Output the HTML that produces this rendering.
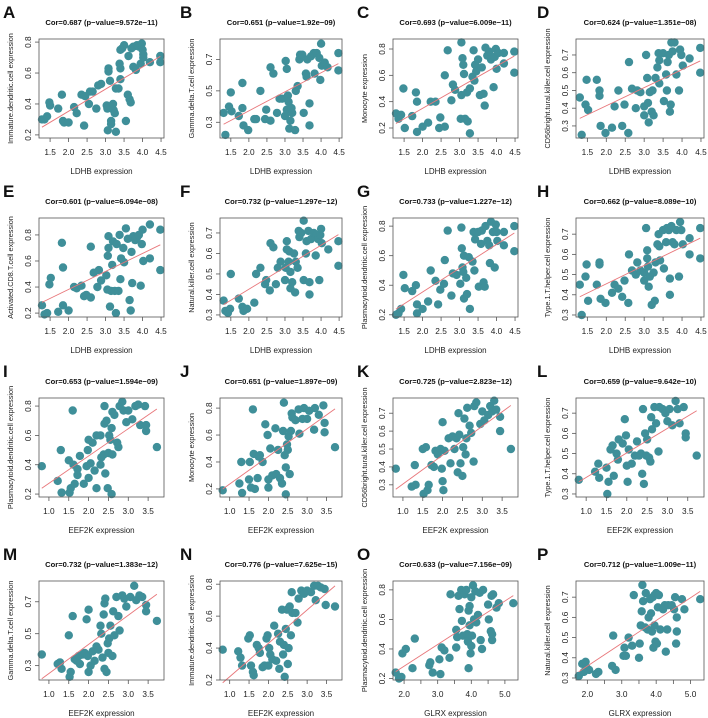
<!DOCTYPE html>
<html><head><meta charset="utf-8"><style>
html,body{margin:0;padding:0;background:#fff;width:708px;height:718px;overflow:hidden}
svg{display:block;font-family:"Liberation Sans",Arial,sans-serif}
</style></head><body>
<svg id="fig" width="708" height="718" viewBox="0 0 708 718"></svg>
<script>
const ldhbTicks=[1.5,2.0,2.5,3.0,3.5,4.0,4.5];
const eef2kTicks=[1.0,1.5,2.0,2.5,3.0,3.5];
const glrxTicks=[2.0,2.5,3.0,3.5,4.0,4.5,5.0];
const glrxLabels=["2.0","","3.0","","4.0","","5.0"];
const yTicks8=[0.2,0.4,0.6,0.8];
const yTicks7=[0.3,0.4,0.5,0.6,0.7];
const yTicks357=[0.3,0.5,0.7];
const panelLetters=["A","B","C","D","E","F","G","H","I","J","K","L","M","N","O","P"];
const panelTitles=["Cor=0.687 (p\u2212value=9.572e\u221211)","Cor=0.651 (p\u2212value=1.92e\u221209)","Cor=0.693 (p\u2212value=6.009e\u221211)","Cor=0.624 (p\u2212value=1.351e\u221208)","Cor=0.601 (p\u2212value=6.094e\u221208)","Cor=0.732 (p\u2212value=1.297e\u221212)","Cor=0.733 (p\u2212value=1.227e\u221212)","Cor=0.662 (p\u2212value=8.089e\u221210)","Cor=0.653 (p\u2212value=1.594e\u221209)","Cor=0.651 (p\u2212value=1.897e\u221209)","Cor=0.725 (p\u2212value=2.823e\u221212)","Cor=0.659 (p\u2212value=9.642e\u221210)","Cor=0.732 (p\u2212value=1.383e\u221212)","Cor=0.776 (p\u2212value=7.625e\u221215)","Cor=0.633 (p\u2212value=7.156e\u221209)","Cor=0.712 (p\u2212value=1.009e\u221211)"];
const yTitles=["Immature.dendritic.cell expression","Gamma.delta.T.cell expression","Monocyte expression","CD56bright.tural.killer.cell expression","Activated.CD8.T.cell expression","Natural.killer.cell expression","Plasmacytoid.dendritic.cell expression","Type.1.T.helper.cell expression","Plasmacytoid.dendritic.cell expression","Monocyte expression","CD56bright.tural.killer.cell expression","Type.1.T.helper.cell expression","Gamma.delta.T.cell expression","Immature.dendritic.cell expression","Plasmacytoid.dendritic.cell expression","Natural.killer.cell expression"];
const xTitles=["LDHB expression","LDHB expression","LDHB expression","LDHB expression","LDHB expression","LDHB expression","LDHB expression","LDHB expression","EEF2K expression","EEF2K expression","EEF2K expression","EEF2K expression","EEF2K expression","EEF2K expression","GLRX expression","GLRX expression"];
const yDomains=[[0.18,0.82],[0.2,0.83],[0.124,0.876],[0.232,0.79],[0.17,0.93],[0.29,0.773],[0.185,0.855],[0.29,0.78],[0.18,0.855],[0.14,0.875],[0.232,0.785],[0.285,0.775],[0.21,0.83],[0.2,0.82],[0.19,0.86],[0.29,0.78]];
const yTickSets=[yTicks8,yTicks357,yTicks8,yTicks7,yTicks8,yTicks7,yTicks8,yTicks7,yTicks8,yTicks8,yTicks7,yTicks7,yTicks357,yTicks8,yTicks8,yTicks7];

const ptsA=[[1.28,0.30],[1.35,0.30],[1.42,0.32],[1.48,0.41],[1.5,0.39],[1.72,0.37],[1.82,0.46],[1.85,0.29],[1.88,0.28],[2.0,0.28],[2.15,0.38],[2.22,0.34],[2.35,0.46],[2.42,0.26],[2.45,0.45],[2.55,0.40],[2.58,0.48],[2.65,0.48],[2.75,0.37],[2.8,0.52],[2.88,0.53],[3.03,0.39],[3.05,0.37],[3.06,0.23],[3.08,0.63],[3.08,0.61],[3.12,0.55],[3.15,0.29],[3.15,0.27],[3.2,0.40],[3.22,0.36],[3.25,0.34],[3.28,0.22],[3.28,0.50],[3.35,0.50],[3.38,0.66],[3.4,0.56],[3.4,0.63],[3.4,0.75],[3.45,0.76],[3.5,0.78],[3.55,0.29],[3.6,0.46],[3.62,0.71],[3.65,0.43],[3.68,0.41],[3.7,0.76],[3.75,0.77],[3.75,0.64],[3.82,0.62],[3.85,0.78],[3.9,0.77],[3.95,0.66],[3.98,0.79],[4.0,0.75],[4.02,0.72],[4.02,0.70],[4.2,0.67],[4.48,0.71],[4.48,0.67]];
const ptsB=[[1.3,0.36],[1.35,0.22],[1.45,0.40],[1.5,0.49],[1.52,0.37],[1.72,0.34],[1.82,0.55],[1.82,0.39],[1.85,0.28],[1.98,0.25],[2.15,0.32],[2.2,0.32],[2.32,0.50],[2.45,0.32],[2.48,0.38],[2.6,0.31],[2.6,0.65],[2.68,0.61],[2.78,0.36],[2.85,0.45],[2.92,0.45],[3.0,0.34],[3.02,0.69],[3.05,0.64],[3.05,0.38],[3.08,0.47],[3.1,0.43],[3.12,0.26],[3.15,0.31],[3.18,0.39],[3.2,0.36],[3.28,0.25],[3.3,0.50],[3.35,0.53],[3.4,0.70],[3.42,0.73],[3.48,0.73],[3.52,0.36],[3.58,0.61],[3.6,0.59],[3.62,0.70],[3.68,0.42],[3.68,0.28],[3.72,0.72],[3.8,0.74],[3.82,0.61],[3.88,0.74],[3.95,0.71],[3.98,0.57],[4.0,0.80],[4.02,0.66],[4.1,0.68],[4.18,0.65],[4.48,0.74],[4.48,0.63]];
const ptsC=[[1.28,0.31],[1.35,0.27],[1.42,0.30],[1.48,0.50],[1.52,0.20],[1.72,0.29],[1.82,0.47],[1.85,0.40],[1.85,0.17],[2.0,0.21],[2.15,0.24],[2.22,0.40],[2.35,0.40],[2.45,0.20],[2.48,0.28],[2.6,0.21],[2.6,0.60],[2.68,0.79],[2.78,0.41],[2.82,0.53],[2.88,0.49],[3.03,0.27],[3.05,0.45],[3.05,0.85],[3.08,0.73],[3.1,0.68],[3.12,0.61],[3.15,0.27],[3.2,0.47],[3.22,0.25],[3.28,0.16],[3.28,0.50],[3.35,0.59],[3.38,0.79],[3.4,0.56],[3.42,0.68],[3.45,0.63],[3.5,0.72],[3.55,0.45],[3.6,0.66],[3.65,0.46],[3.68,0.37],[3.7,0.81],[3.75,0.75],[3.8,0.78],[3.85,0.72],[3.92,0.51],[3.95,0.74],[3.98,0.80],[4.0,0.65],[4.05,0.77],[4.2,0.69],[4.2,0.77],[4.48,0.78],[4.48,0.62]];
const ptsD=[[1.3,0.46],[1.35,0.25],[1.45,0.42],[1.48,0.56],[1.52,0.39],[1.75,0.56],[1.82,0.50],[1.82,0.47],[1.85,0.30],[1.98,0.26],[2.15,0.29],[2.22,0.41],[2.32,0.50],[2.42,0.30],[2.48,0.42],[2.58,0.26],[2.6,0.66],[2.68,0.51],[2.78,0.40],[2.82,0.50],[2.9,0.49],[3.0,0.41],[3.0,0.36],[3.05,0.70],[3.08,0.57],[3.1,0.43],[3.12,0.32],[3.15,0.49],[3.2,0.38],[3.22,0.50],[3.25,0.36],[3.3,0.57],[3.35,0.63],[3.38,0.71],[3.4,0.67],[3.4,0.54],[3.5,0.71],[3.52,0.44],[3.58,0.59],[3.6,0.50],[3.62,0.66],[3.65,0.70],[3.68,0.38],[3.7,0.42],[3.72,0.77],[3.75,0.72],[3.8,0.77],[3.85,0.59],[3.92,0.50],[3.95,0.73],[3.98,0.70],[4.02,0.64],[4.2,0.68],[4.48,0.74],[4.48,0.60]];
const ptsE=[[1.28,0.26],[1.35,0.19],[1.42,0.20],[1.48,0.42],[1.52,0.47],[1.72,0.21],[1.82,0.74],[1.85,0.55],[1.85,0.26],[2.0,0.22],[2.15,0.40],[2.22,0.39],[2.35,0.41],[2.42,0.33],[2.48,0.34],[2.6,0.32],[2.6,0.71],[2.68,0.51],[2.78,0.40],[2.82,0.53],[2.88,0.45],[3.02,0.49],[3.05,0.38],[3.06,0.64],[3.08,0.70],[3.08,0.79],[3.12,0.25],[3.15,0.37],[3.18,0.57],[3.2,0.75],[3.25,0.37],[3.28,0.20],[3.3,0.73],[3.35,0.37],[3.38,0.80],[3.4,0.46],[3.42,0.62],[3.48,0.70],[3.5,0.59],[3.55,0.85],[3.6,0.77],[3.65,0.30],[3.68,0.22],[3.7,0.67],[3.72,0.43],[3.75,0.79],[3.8,0.76],[3.85,0.78],[3.9,0.80],[3.95,0.41],[3.98,0.73],[4.0,0.84],[4.02,0.60],[4.2,0.62],[4.2,0.88],[4.48,0.84],[4.48,0.53]];
const ptsF=[[1.3,0.37],[1.35,0.32],[1.42,0.31],[1.48,0.33],[1.5,0.50],[1.72,0.38],[1.82,0.34],[1.85,0.32],[1.95,0.33],[2.15,0.36],[2.2,0.50],[2.32,0.53],[2.45,0.45],[2.48,0.47],[2.58,0.42],[2.6,0.65],[2.68,0.63],[2.75,0.45],[2.8,0.53],[2.88,0.56],[3.0,0.47],[3.02,0.53],[3.05,0.62],[3.05,0.66],[3.1,0.56],[3.12,0.61],[3.15,0.51],[3.15,0.43],[3.2,0.46],[3.25,0.60],[3.28,0.41],[3.3,0.56],[3.35,0.53],[3.38,0.71],[3.4,0.68],[3.45,0.70],[3.52,0.76],[3.52,0.47],[3.58,0.60],[3.6,0.66],[3.65,0.71],[3.68,0.46],[3.68,0.40],[3.72,0.67],[3.8,0.70],[3.85,0.59],[3.88,0.69],[3.92,0.67],[3.95,0.47],[3.98,0.69],[4.0,0.72],[4.02,0.65],[4.2,0.62],[4.48,0.66],[4.48,0.54]];
const ptsG=[[1.28,0.20],[1.35,0.21],[1.42,0.24],[1.48,0.47],[1.52,0.38],[1.72,0.36],[1.82,0.40],[1.85,0.27],[1.85,0.21],[2.0,0.24],[2.15,0.29],[2.22,0.50],[2.35,0.43],[2.42,0.27],[2.48,0.37],[2.58,0.41],[2.6,0.57],[2.68,0.77],[2.78,0.33],[2.82,0.48],[2.92,0.47],[3.02,0.41],[3.05,0.79],[3.06,0.65],[3.08,0.52],[3.1,0.49],[3.12,0.60],[3.12,0.31],[3.18,0.45],[3.2,0.34],[3.25,0.59],[3.28,0.24],[3.35,0.56],[3.38,0.76],[3.4,0.50],[3.42,0.71],[3.5,0.76],[3.52,0.39],[3.58,0.68],[3.6,0.77],[3.65,0.42],[3.68,0.39],[3.7,0.80],[3.75,0.70],[3.8,0.67],[3.82,0.55],[3.85,0.83],[3.9,0.76],[3.95,0.52],[3.98,0.81],[4.0,0.76],[4.02,0.70],[4.2,0.76],[4.2,0.67],[4.48,0.80],[4.48,0.63]];
const ptsH=[[1.3,0.45],[1.35,0.30],[1.45,0.49],[1.48,0.55],[1.52,0.37],[1.75,0.45],[1.82,0.56],[1.82,0.55],[1.85,0.38],[1.98,0.36],[2.15,0.41],[2.22,0.45],[2.32,0.43],[2.42,0.39],[2.48,0.47],[2.58,0.36],[2.6,0.60],[2.68,0.52],[2.78,0.50],[2.82,0.56],[2.9,0.52],[3.0,0.47],[3.0,0.51],[3.05,0.73],[3.08,0.62],[3.08,0.58],[3.1,0.54],[3.12,0.44],[3.15,0.49],[3.2,0.35],[3.25,0.51],[3.28,0.37],[3.3,0.56],[3.35,0.65],[3.38,0.70],[3.4,0.64],[3.42,0.57],[3.5,0.72],[3.52,0.53],[3.58,0.66],[3.6,0.73],[3.65,0.72],[3.68,0.48],[3.68,0.40],[3.72,0.74],[3.75,0.66],[3.8,0.65],[3.85,0.72],[3.92,0.49],[3.95,0.76],[3.98,0.72],[4.02,0.65],[4.2,0.68],[4.2,0.60],[4.48,0.73],[4.48,0.58]];
const ptsI=[[0.82,0.39],[1.22,0.29],[1.3,0.50],[1.32,0.21],[1.5,0.43],[1.52,0.21],[1.55,0.24],[1.6,0.77],[1.62,0.40],[1.65,0.27],[1.72,0.33],[1.72,0.37],[1.78,0.46],[1.88,0.27],[1.95,0.39],[1.98,0.50],[2.0,0.31],[2.0,0.57],[2.05,0.41],[2.1,0.55],[2.15,0.36],[2.2,0.24],[2.2,0.60],[2.3,0.60],[2.3,0.40],[2.32,0.45],[2.38,0.47],[2.4,0.68],[2.4,0.80],[2.42,0.34],[2.45,0.70],[2.48,0.24],[2.5,0.48],[2.52,0.60],[2.55,0.57],[2.58,0.65],[2.58,0.20],[2.6,0.47],[2.6,0.76],[2.65,0.74],[2.72,0.55],[2.75,0.52],[2.78,0.80],[2.85,0.83],[2.88,0.77],[2.95,0.69],[3.0,0.77],[3.1,0.71],[3.18,0.80],[3.25,0.81],[3.3,0.67],[3.42,0.80],[3.45,0.63],[3.45,0.67],[3.72,0.52]];
const ptsJ=[[0.82,0.19],[1.25,0.24],[1.3,0.40],[1.32,0.17],[1.5,0.27],[1.52,0.40],[1.55,0.21],[1.6,0.79],[1.62,0.46],[1.65,0.20],[1.72,0.28],[1.75,0.44],[1.78,0.45],[1.85,0.40],[1.92,0.68],[1.98,0.60],[2.0,0.27],[2.0,0.21],[2.05,0.50],[2.1,0.30],[2.18,0.65],[2.2,0.31],[2.25,0.49],[2.3,0.28],[2.35,0.24],[2.38,0.63],[2.4,0.84],[2.42,0.45],[2.45,0.36],[2.45,0.16],[2.48,0.53],[2.5,0.49],[2.52,0.59],[2.55,0.31],[2.58,0.63],[2.6,0.76],[2.62,0.73],[2.7,0.71],[2.78,0.79],[2.8,0.61],[2.88,0.72],[2.92,0.80],[3.0,0.72],[3.05,0.78],[3.18,0.64],[3.2,0.80],[3.3,0.75],[3.42,0.82],[3.45,0.62],[3.45,0.69],[3.72,0.51]];
const ptsK=[[0.82,0.39],[1.22,0.29],[1.3,0.41],[1.32,0.30],[1.5,0.50],[1.52,0.25],[1.58,0.51],[1.62,0.27],[1.65,0.30],[1.72,0.41],[1.78,0.40],[1.82,0.49],[1.88,0.47],[1.95,0.50],[1.98,0.39],[2.0,0.65],[2.0,0.32],[2.02,0.27],[2.05,0.49],[2.15,0.56],[2.2,0.42],[2.25,0.57],[2.3,0.50],[2.35,0.56],[2.38,0.37],[2.4,0.70],[2.42,0.58],[2.45,0.42],[2.5,0.35],[2.52,0.51],[2.55,0.67],[2.58,0.47],[2.6,0.56],[2.62,0.73],[2.68,0.63],[2.72,0.59],[2.78,0.43],[2.8,0.74],[2.85,0.76],[2.95,0.64],[3.0,0.71],[3.05,0.66],[3.15,0.69],[3.2,0.74],[3.25,0.71],[3.3,0.77],[3.35,0.72],[3.45,0.68],[3.45,0.60],[3.72,0.50]];
const ptsL=[[0.82,0.37],[1.22,0.41],[1.3,0.45],[1.32,0.38],[1.5,0.43],[1.52,0.30],[1.55,0.36],[1.6,0.52],[1.65,0.54],[1.68,0.39],[1.75,0.50],[1.78,0.47],[1.8,0.57],[1.9,0.55],[1.95,0.67],[1.98,0.59],[2.0,0.44],[2.02,0.36],[2.05,0.52],[2.12,0.45],[2.2,0.49],[2.25,0.56],[2.3,0.49],[2.35,0.50],[2.38,0.40],[2.4,0.72],[2.42,0.35],[2.45,0.60],[2.48,0.49],[2.5,0.57],[2.55,0.48],[2.58,0.46],[2.6,0.68],[2.62,0.62],[2.68,0.73],[2.72,0.65],[2.78,0.51],[2.8,0.73],[2.88,0.72],[2.95,0.70],[3.0,0.66],[3.05,0.72],[3.12,0.64],[3.2,0.76],[3.25,0.72],[3.3,0.65],[3.4,0.73],[3.45,0.60],[3.45,0.58],[3.72,0.49]];
const ptsM=[[0.82,0.37],[1.22,0.31],[1.28,0.32],[1.32,0.28],[1.5,0.49],[1.52,0.23],[1.55,0.26],[1.6,0.61],[1.65,0.34],[1.7,0.33],[1.75,0.36],[1.78,0.31],[1.85,0.37],[1.9,0.38],[1.95,0.59],[1.98,0.36],[2.0,0.65],[2.0,0.26],[2.05,0.30],[2.1,0.39],[2.15,0.33],[2.2,0.42],[2.25,0.40],[2.3,0.55],[2.32,0.50],[2.35,0.35],[2.38,0.62],[2.4,0.69],[2.4,0.28],[2.42,0.72],[2.45,0.26],[2.48,0.44],[2.5,0.38],[2.52,0.47],[2.55,0.55],[2.6,0.36],[2.62,0.64],[2.65,0.49],[2.7,0.73],[2.75,0.61],[2.78,0.52],[2.85,0.74],[2.9,0.72],[2.95,0.67],[3.05,0.73],[3.15,0.80],[3.2,0.71],[3.28,0.74],[3.35,0.73],[3.45,0.68],[3.45,0.64],[3.72,0.58]];
const ptsN=[[0.82,0.39],[1.22,0.38],[1.28,0.34],[1.32,0.29],[1.48,0.46],[1.52,0.48],[1.55,0.29],[1.6,0.25],[1.62,0.23],[1.7,0.42],[1.75,0.40],[1.78,0.37],[1.85,0.28],[1.9,0.29],[1.95,0.46],[1.98,0.48],[2.0,0.29],[2.02,0.40],[2.05,0.36],[2.1,0.33],[2.15,0.54],[2.2,0.32],[2.25,0.49],[2.28,0.27],[2.3,0.44],[2.35,0.64],[2.38,0.36],[2.4,0.42],[2.42,0.22],[2.45,0.52],[2.48,0.64],[2.5,0.30],[2.52,0.40],[2.55,0.66],[2.58,0.48],[2.6,0.75],[2.62,0.62],[2.7,0.62],[2.75,0.56],[2.78,0.71],[2.85,0.76],[2.92,0.74],[3.0,0.76],[3.1,0.75],[3.18,0.79],[3.22,0.70],[3.28,0.79],[3.35,0.78],[3.45,0.77],[3.48,0.67],[3.72,0.66]];
const ptsO=[[1.75,0.24],[1.85,0.20],[1.92,0.21],[1.95,0.37],[2.05,0.40],[2.25,0.27],[2.32,0.47],[2.75,0.29],[2.78,0.31],[2.85,0.24],[3.05,0.33],[3.08,0.23],[3.12,0.41],[3.2,0.39],[3.35,0.34],[3.38,0.77],[3.55,0.41],[3.55,0.53],[3.58,0.48],[3.62,0.76],[3.65,0.67],[3.7,0.80],[3.72,0.59],[3.75,0.49],[3.8,0.77],[3.85,0.80],[3.88,0.50],[3.9,0.45],[3.92,0.27],[3.92,0.66],[3.95,0.69],[3.95,0.56],[3.98,0.37],[4.0,0.42],[4.0,0.75],[4.02,0.49],[4.05,0.83],[4.08,0.60],[4.12,0.79],[4.15,0.58],[4.2,0.63],[4.25,0.78],[4.28,0.46],[4.32,0.40],[4.35,0.80],[4.5,0.70],[4.52,0.60],[4.58,0.52],[4.6,0.76],[4.62,0.46],[4.62,0.50],[4.65,0.77],[4.75,0.68],[4.82,0.71],[5.25,0.71]];
const ptsP=[[1.75,0.31],[1.85,0.37],[1.9,0.33],[1.95,0.38],[1.98,0.35],[2.05,0.34],[2.25,0.32],[2.32,0.33],[2.72,0.36],[2.75,0.51],[2.82,0.34],[3.05,0.41],[3.08,0.45],[3.12,0.41],[3.2,0.50],[3.3,0.46],[3.35,0.71],[3.5,0.40],[3.52,0.47],[3.55,0.56],[3.58,0.63],[3.6,0.76],[3.62,0.68],[3.68,0.55],[3.7,0.72],[3.75,0.54],[3.78,0.60],[3.82,0.69],[3.85,0.62],[3.88,0.53],[3.9,0.70],[3.92,0.45],[3.95,0.71],[3.95,0.56],[3.98,0.48],[4.0,0.72],[4.02,0.47],[4.05,0.65],[4.08,0.71],[4.12,0.54],[4.2,0.64],[4.25,0.66],[4.28,0.43],[4.32,0.54],[4.35,0.66],[4.45,0.66],[4.52,0.64],[4.55,0.70],[4.58,0.47],[4.6,0.53],[4.6,0.60],[4.75,0.69],[4.82,0.64],[5.28,0.69]];
const allPts=[ptsA,ptsB,ptsC,ptsD,ptsE,ptsF,ptsG,ptsH,ptsI,ptsJ,ptsK,ptsL,ptsM,ptsN,ptsO,ptsP];

const NS="http://www.w3.org/2000/svg";
const svg=document.getElementById("fig");
const colOff=[0,177,354,534];
const boxX=[[39,164],[220,342],[393,518],[576,704]];
const rowOff=[0,179,359,542];
const BT=39,BB=138;
function mk(tag,attrs,parent,text){const e=document.createElementNS(NS,tag);for(const k in attrs)e.setAttribute(k,attrs[k]);if(text!==undefined)e.textContent=text;parent.appendChild(e);return e;}
function fmt(v){return v.toFixed(1);}

for(let i=0;i<16;i++){
  const r=Math.floor(i/4),c=i%4;
  const oy=rowOff[r];
  const L=boxX[c][0],R=boxX[c][1],T=oy+BT,B=oy+BB;
  const xt=i<8?"ldhb":(i<14?"eef2k":"glrx");
  const xDom=xt==="ldhb"?[1.2,4.58]:(xt==="eef2k"?[0.75,3.9]:[1.67,5.39]);
  const xTickV=xt==="ldhb"?ldhbTicks:(xt==="eef2k"?eef2kTicks:glrxTicks);
  const yDom=yDomains[i];
  const sx=v=>L+(v-xDom[0])/(xDom[1]-xDom[0])*(R-L);
  const sy=v=>B-(v-yDom[0])/(yDom[1]-yDom[0])*(B-T);
  const g=mk("g",{},svg);
  
  
  const lt=mk("text",{x:colOff[c]+3,y:oy+18,"font-size":17,"font-weight":"bold",fill:"#111"},g,panelLetters[i]);
  
  
  const tt=mk("text",{x:(L+R)/2,y:oy+25,"font-size":7.6,"font-weight":"bold","text-anchor":"middle",fill:"#111"},g,panelTitles[i]);
  
  
  const pg=mk("g",{},g);
  
  
  const pts=allPts[i];
  pts.forEach(p=>{
    const cEl=mk("circle",{cx:sx(p[0]).toFixed(1),cy:sy(p[1]).toFixed(1),r:4.2,fill:"#3f8f99"},pg);
    
    
  });
  // regression line
  const n=pts.length;let mx=0,my=0;pts.forEach(p=>{mx+=p[0];my+=p[1];});mx/=n;my/=n;
  let sxy=0,sxx=0;pts.forEach(p=>{sxy+=(p[0]-mx)*(p[1]-my);sxx+=(p[0]-mx)*(p[0]-mx);});
  const b=sxy/sxx,a=my-b*mx;
  let xmin=Infinity,xmax=-Infinity;pts.forEach(p=>{xmin=Math.min(xmin,p[0]);xmax=Math.max(xmax,p[0]);});
  const ln=mk("line",{x1:sx(xmin),y1:sy(a+b*xmin),x2:sx(xmax),y2:sy(a+b*xmax),stroke:"#e8767a","stroke-width":0.9},g);
  
  
  const bx=mk("rect",{x:L,y:T,width:R-L,height:B-T,fill:"none",stroke:"#555","stroke-width":0.8},g);
  
  
  // x axis ticks
  const xa=mk("g",{},g);
  
  
  xTickV.forEach((v,k)=>{
    const x=sx(v);
    mk("line",{x1:x,y1:B,x2:x,y2:B+4,stroke:"#555","stroke-width":0.8},xa);
    const lab=xt==="glrx"?glrxLabels[k]:fmt(v);
    if(lab){const t=mk("text",{x:x,y:oy+155,"font-size":8.3,"text-anchor":"middle",fill:"#222"},xa,lab);
      
      }
  });
  const xtl=mk("text",{x:(L+R)/2,y:oy+174,"font-size":8,"text-anchor":"middle",fill:"#222"},g,xTitles[i]);
  
  
  // y axis
  const ya=mk("g",{},g);
  
  
  yTickSets[i].forEach(v=>{
    const y=sy(v);
    mk("line",{x1:L-4,y1:y,x2:L,y2:y,stroke:"#555","stroke-width":0.8},ya);
    const t=mk("text",{x:L-8,y:y,"font-size":8.3,"text-anchor":"middle",fill:"#222",transform:`rotate(-90 ${L-8} ${y})`},ya,fmt(v));
    
    
  });
  const yc=(T+B)/2,yx=L-26;
  const ytl=mk("text",{x:yx,y:yc,"font-size":7.3,"text-anchor":"middle",fill:"#222",transform:`rotate(-90 ${yx} ${yc})`},g,yTitles[i]);
  
  
}
</script>
</body></html>
